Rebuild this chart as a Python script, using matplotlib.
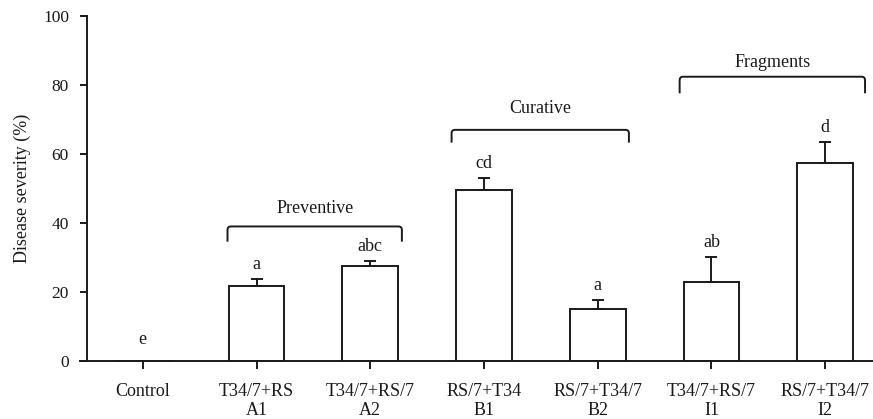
import matplotlib
matplotlib.use("Agg")
import matplotlib.pyplot as plt
from matplotlib.path import Path
from matplotlib.patches import PathPatch
import numpy as np

categories = ["Control", "T34/7+RS\nA1", "T34/7+RS/7\nA2", "RS/7+T34\nB1",
              "RS/7+T34/7\nB2", "T34/7+RS/7\nI1", "RS/7+T34/7\nI2"]
values = [0, 21.8, 27.5, 49.6, 15.0, 22.9, 57.5]
errors = [0, 2.0, 1.5, 3.4, 2.7, 7.3, 6.1]
letters = ["e", "a", "abc", "cd", "a", "ab", "d"]

groups = ["Preventive", "Curative", "Fragments"]
group_x0 = [0.745, 2.715, 4.72]
group_x1 = [2.278, 4.274, 6.35]
group_top = [39.0, 67.0, 82.4]
group_drop = [4.4, 3.7, 4.8]
group_label_gap = [3.9, 4.8, 2.9]

plt.rcParams['font.family'] = ['Liberation Serif', 'DejaVu Serif']
fs = 13
fig = plt.figure(figsize=(8.73, 4.19), dpi=100)
ax = fig.add_axes([0.0997, 0.1384, 0.9003, 0.8234])

x = np.arange(len(categories))
lw = 1.4
col = '#1a1a1a'
ax.bar(x, values, width=0.49, color='white', edgecolor=col, linewidth=lw, zorder=2)
for xi, v, e in zip(x, values, errors):
    if e > 0:
        ax.errorbar(xi, v, yerr=[[0], [e]], fmt='none', ecolor=col,
                    elinewidth=lw, capsize=4, capthick=lw, zorder=3)
for xi, v, e, l in zip(x, values, errors, letters):
    ax.annotate(l, (xi, v + e), xytext=(0, 7 if v > 0 else 12), textcoords='offset points',
                ha='center', va='baseline', fontsize=fs, color=col)

rx, ry = 0.03, 1.0
for g, a, b, t, d, gap in zip(groups, group_x0, group_x1, group_top, group_drop, group_label_gap):
    verts = [(a, t - d), (a, t - ry), (a, t), (a + rx, t),
             (b - rx, t), (b, t), (b, t - ry), (b, t - d)]
    codes = [Path.MOVETO, Path.LINETO, Path.CURVE3, Path.CURVE3,
             Path.LINETO, Path.CURVE3, Path.CURVE3, Path.LINETO]
    ax.add_patch(PathPatch(Path(verts, codes), facecolor='none', edgecolor=col,
                           lw=lw, clip_on=False))
    ax.text((a + b) / 2, t + gap, g, ha='center', va='baseline', fontsize=fs, color=col)

ax.set_xlim(-0.49, 6.42)
ax.set_ylim(0, 100)
ax.set_yticks([0, 20, 40, 60, 80, 100])
ax.set_xticks(x)
ax.set_xticklabels(categories, fontsize=fs, linespacing=1.1)
ax.tick_params(axis='y', labelsize=12.5, length=5, width=lw, direction='out', pad=8, colors=col)
ax.tick_params(axis='x', length=6, width=lw, direction='out', pad=10, colors=col)
ax.set_ylabel("Disease severity (%)", fontsize=fs, color=col)
ax.yaxis.set_label_coords(-0.071, 0.5)
for s in ['top', 'right']:
    ax.spines[s].set_visible(False)
for s in ['left', 'bottom']:
    ax.spines[s].set_linewidth(lw)
    ax.spines[s].set_color(col)
ax.spines['bottom'].set_bounds(-0.55, 6.42)
fig.savefig("out.png", dpi=100)
